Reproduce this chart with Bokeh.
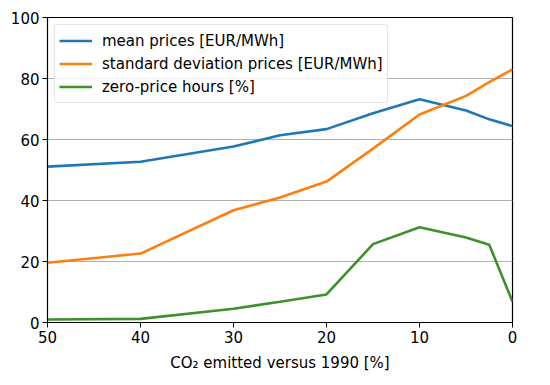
from bokeh.plotting import figure
from bokeh.models import Range1d, FixedTicker, Legend, LegendItem
from bokeh.embed import file_html
from bokeh.resources import INLINE

# Data
co2 = [50, 40, 30, 25, 20, 15, 10, 5, 2.5, 0]
mean_prices = [51.1, 52.7, 57.7, 61.4, 63.4, 68.6, 73.2, 69.5, 66.6, 64.4]
std_prices = [19.6, 22.6, 36.8, 41.0, 46.2, 57.0, 68.2, 74.3, 78.8, 83.0]
zero_hours = [1.0, 1.2, 4.5, 6.8, 9.2, 25.7, 31.2, 27.9, 25.5, 6.8]
x_ticks = [50, 40, 30, 20, 10, 0]
y_ticks = [0, 20, 40, 60, 80, 100]

FONT = "DejaVu Sans"

p = figure(width=542, height=377, output_backend="svg", toolbar_location=None,
           x_range=Range1d(50, 0), y_range=Range1d(0, 100),
           min_border_left=47, min_border_right=30, min_border_top=17, min_border_bottom=55)
p.frame_width = 465
p.frame_height = 305

p.outline_line_color = "black"
p.outline_line_width = 1.2
p.outline_line_alpha = 1.0
p.background_fill_color = "white"
p.border_fill_color = "white"

p.xgrid.visible = False
p.ygrid.grid_line_color = "#b0b0b0"
p.ygrid.grid_line_width = 1

for ax in (p.xaxis[0], p.yaxis[0]):
    ax.axis_line_color = "black"
    ax.major_tick_line_color = "black"
    ax.major_tick_out = 5
    ax.major_tick_in = 0
    ax.minor_tick_line_color = None
    ax.major_label_text_font = FONT
    ax.major_label_text_font_size = "15px"
    ax.major_label_text_color = "black"
    ax.major_label_standoff = 3
    ax.axis_label_text_font = FONT
    ax.axis_label_text_font_size = "15px"
    ax.axis_label_text_font_style = "normal"
    ax.axis_label_text_color = "black"

p.xaxis.ticker = FixedTicker(ticks=x_ticks)
p.yaxis.ticker = FixedTicker(ticks=y_ticks)
p.xaxis.axis_label = "CO\u2082 emitted versus 1990 [%]"
p.xaxis.axis_label_standoff = 8

r1 = p.line(co2, mean_prices, line_color="#1f77b4", line_width=2.6)
r2 = p.line(co2, std_prices, line_color="#ff7f0e", line_width=2.6)
r3 = p.line(co2, zero_hours, line_color="#3f8f2a", line_width=2.6)

legend = Legend(items=[
    LegendItem(label="mean prices [EUR/MWh]", renderers=[r1]),
    LegendItem(label="standard deviation prices [EUR/MWh]", renderers=[r2]),
    LegendItem(label="zero-price hours [%]", renderers=[r3]),
], location="top_left")
legend.margin = 7
legend.padding = 4
legend.spacing = 0
legend.glyph_width = 33
legend.glyph_height = 23
legend.label_height = 23
legend.label_standoff = 10
legend.label_text_font = FONT
legend.label_text_font_size = "15px"
legend.label_text_color = "black"
legend.border_line_color = "#cccccc"
legend.border_line_width = 1
legend.background_fill_alpha = 0.8
legend.border_radius = 3
p.add_layout(legend, "center")

open("out.html", "w").write(file_html(p, INLINE))
